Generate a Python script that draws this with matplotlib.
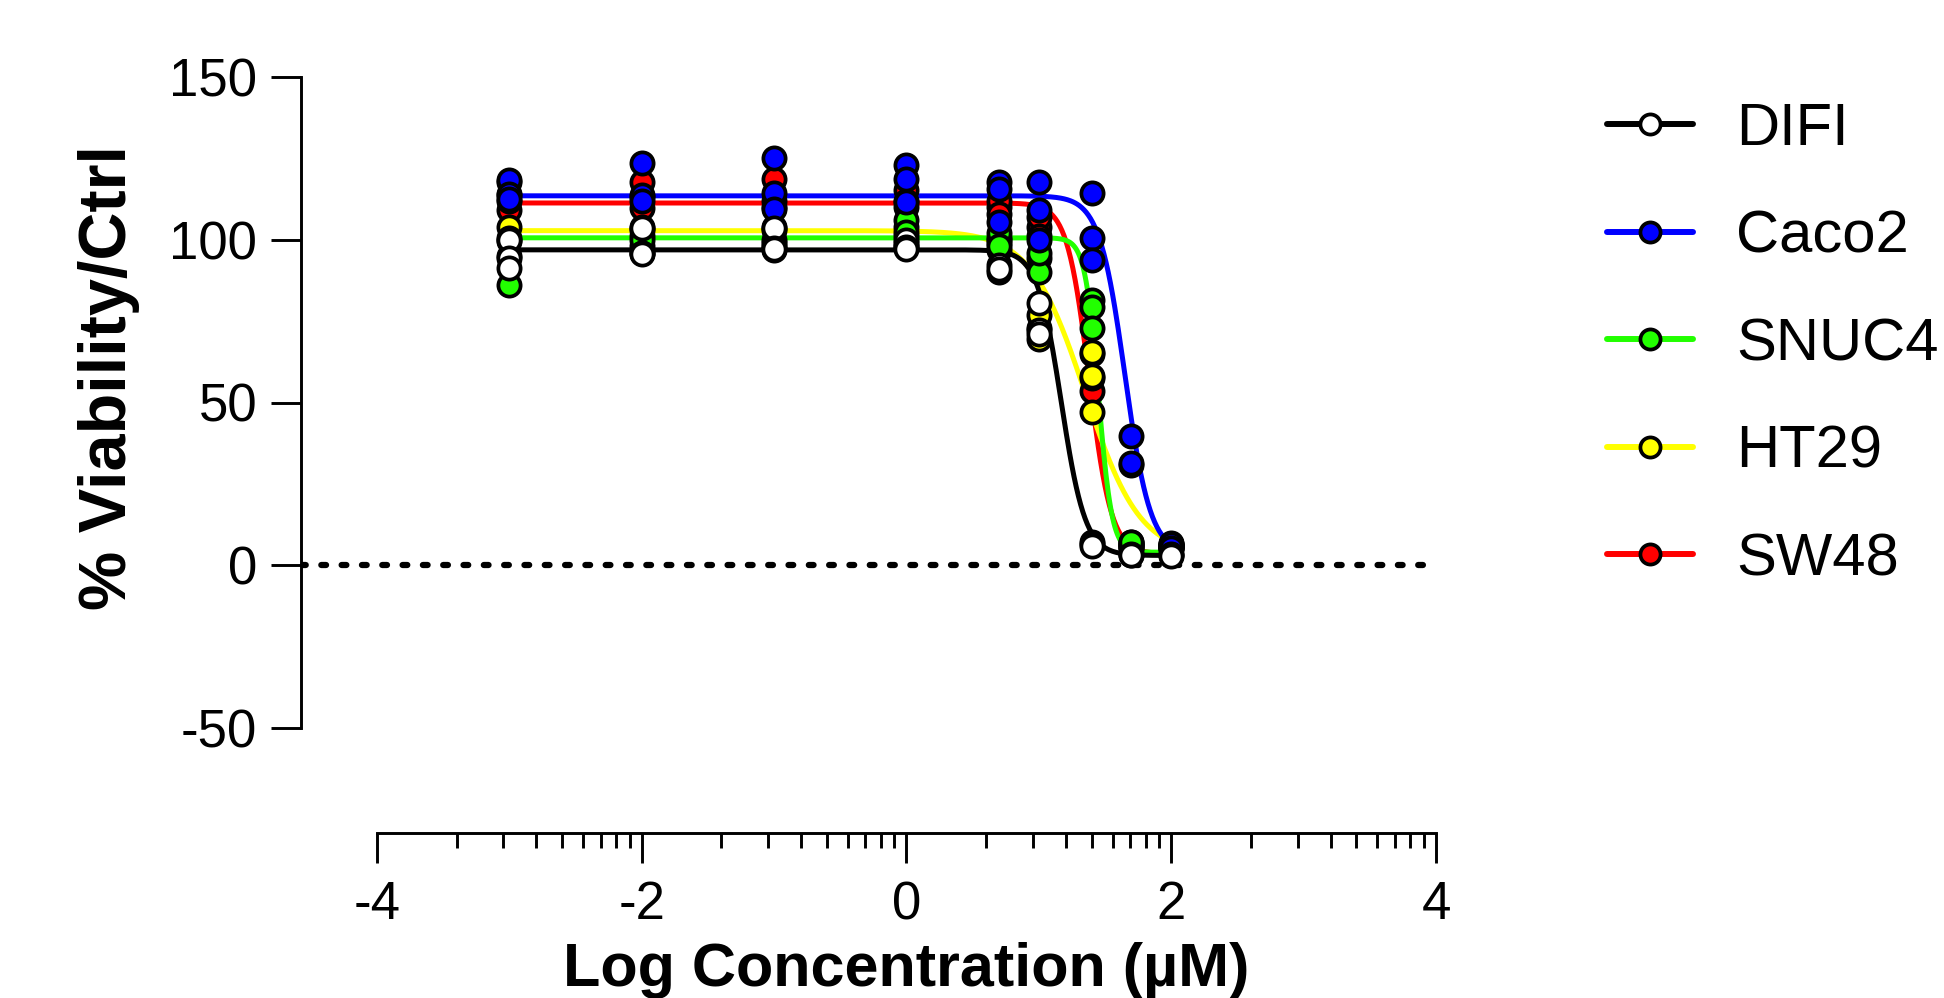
import numpy as np
import matplotlib
matplotlib.use("Agg")
import matplotlib.pyplot as plt
from matplotlib.lines import Line2D

plt.rcParams['font.family'] = ['Liberation Sans', 'DejaVu Sans']

# ---------------- data ----------------
cell_lines = ["DIFI", "Caco2", "SNUC4", "HT29", "SW48"]
fill_colors = ["#ffffff", "#0000ff", "#22ff00", "#ffff00", "#ff0000"]
line_colors = ["#000000", "#0000ff", "#22ff00", "#ffff00", "#ff0000"]

log_conc = [-3.0, -2.0, -1.0, 0.0, 0.699, 1.0, 1.398, 1.699, 2.0]

# three replicates per concentration (% viability / ctrl)
difi = [[99.9, 94.5, 91.2], [103.5, 96.0, 95.6], [103.7, 97.5, 97.2],
        [99.9, 97.8, 97.3], [92.2, 90.2, 91.0], [80.5, 72.3, 71.0],
        [7.0, 6.5, 6.0], [3.4, 3.0, 3.2], [3.4, 3.0, 2.8]]
caco2 = [[118.3, 114.0, 112.5], [123.6, 113.7, 112.0], [125.2, 114.3, 109.6],
         [122.9, 118.8, 111.7], [117.8, 115.7, 105.5], [117.8, 109.1, 99.9],
         [114.5, 100.4, 93.8], [39.6, 30.9, 31.5], [5.8, 6.5, 5.2]]
snuc4 = [[86.1, 100.5, 113.8], [103.0, 100.0, 96.0], [104.0, 99.0, 97.0],
         [106.0, 102.5, 99.0], [100.4, 102.0, 98.0], [94.3, 90.2, 96.0],
         [81.4, 79.4, 72.8], [6.5, 5.5, 7.0], [5.0, 6.0, 5.5]]
ht29 = [[104.0, 99.5, 95.0], [104.0, 98.0, 101.0], [103.0, 100.0, 98.0],
        [101.0, 98.0, 104.0], [98.9, 97.0, 100.0], [69.5, 73.0, 77.0],
        [65.6, 58.0, 47.2], [6.0, 7.2, 5.0], [6.2, 5.3, 6.8]]
sw48 = [[109.1, 112.0, 117.8], [117.8, 109.9, 113.0], [118.8, 112.0, 110.0],
        [115.2, 112.0, 110.0], [110.1, 112.0, 108.0], [104.0, 107.0, 101.0],
        [53.4, 57.5, 65.0], [6.8, 5.5, 6.2], [6.0, 5.7, 6.4]]
replicates = [difi, caco2, snuc4, ht29, sw48]

# fitted 4-parameter logistic curves (parameters)
fit_top = [96.9, 113.5, 100.6, 102.8, 111.3]
fit_bottom = [3.0, 3.5, 4.0, 3.0, 3.5]
fit_log_ic50 = [1.17, 1.65, 1.45, 1.35, 1.38]
fit_hill = [4.8, 4.5, 8.5, 2.1, 5.2]

y_ticks = [-50, 0, 50, 100, 150]
x_ticks = [-4, -2, 0, 2, 4]

# ---------------- figure ----------------
W, H = 1944, 998
fig = plt.figure(figsize=(W / 100, H / 100), dpi=100)
ax = fig.add_axes([301 / W, 270 / H, 1135 / W, 651 / H])

ax.set_xlim(-4.574, 4.0)
ax.set_ylim(-50, 150)

ax.axhline(0, color="black", lw=4.5, dashes=(0.76, 2.49),
           dash_capstyle="round", zorder=1)

xs = np.linspace(log_conc[0], log_conc[-1], 600)
order = list(range(len(cell_lines)))[::-1]
for i in order:
    ys = fit_bottom[i] + (fit_top[i] - fit_bottom[i]) / (
        1 + 10 ** (fit_hill[i] * (xs - fit_log_ic50[i])))
    ax.plot(xs, ys, color=line_colors[i], lw=3.6, zorder=2 + (4 - i) * 0.1,
            solid_capstyle="round")

for i in order:
    px, py = [], []
    for xc, reps in zip(log_conc, replicates[i]):
        for v in reps:
            px.append(xc)
            py.append(v)
    ax.plot(px, py, ls="none", marker="o", ms=16.0, mfc=fill_colors[i],
            mec="black", mew=2.7, zorder=3 + (4 - i) * 0.1, clip_on=False)

# spines / ticks
for s in ["top", "right"]:
    ax.spines[s].set_visible(False)
ax.spines["left"].set_linewidth(2.1)
ax.spines["bottom"].set_linewidth(2.1)
ax.spines["left"].set_bounds(-50, 150)
ax.spines["bottom"].set_position(("outward", 75.6))
ax.spines["bottom"].set_bounds(-4, 4)

ax.set_yticks(y_ticks)
ax.set_yticklabels([str(t) for t in y_ticks])
ax.set_xticks(x_ticks)
ax.set_xticklabels([str(t) for t in x_ticks])
minor = [a + 2 * np.log10(k) for a in x_ticks[:-1] for k in range(2, 10)]
ax.set_xticks(minor, minor=True)
ax.tick_params(axis="both", which="major", length=21.6, width=2.1,
               labelsize=38, color="black")
ax.tick_params(axis="y", pad=10)
ax.tick_params(axis="x", pad=12.5)
ax.tick_params(axis="x", which="minor", length=10.8, width=2.1)

ax.set_ylabel("% Viability/Ctrl", fontsize=48, fontweight="bold", va="center")
ax.yaxis.set_label_coords((109 - 301) / 1135, (728 - 378) / 651)
ax.set_xlabel("Log Concentration (µM)", fontsize=44, fontweight="bold",
              va="baseline")
ax.xaxis.set_label_coords(4.574 / 8.574, (728 - 986) / 651)

# legend
handles = [Line2D([0], [0], color=line_colors[i], lw=4.3, marker="o", ms=14.5,
                  mfc=fill_colors[i], mec="black", mew=2.7,
                  solid_capstyle="round") for i in range(len(cell_lines))]
ax.legend(handles, cell_lines, loc="upper left",
          bbox_to_anchor=(1607 / W, (H - 102) / H), bbox_transform=fig.transFigure,
          frameon=False, fontsize=43, handlelength=1.44, handletextpad=0.72,
          labelspacing=0.88, borderpad=0, borderaxespad=0, numpoints=1)

fig.savefig("out.png", dpi=100)
